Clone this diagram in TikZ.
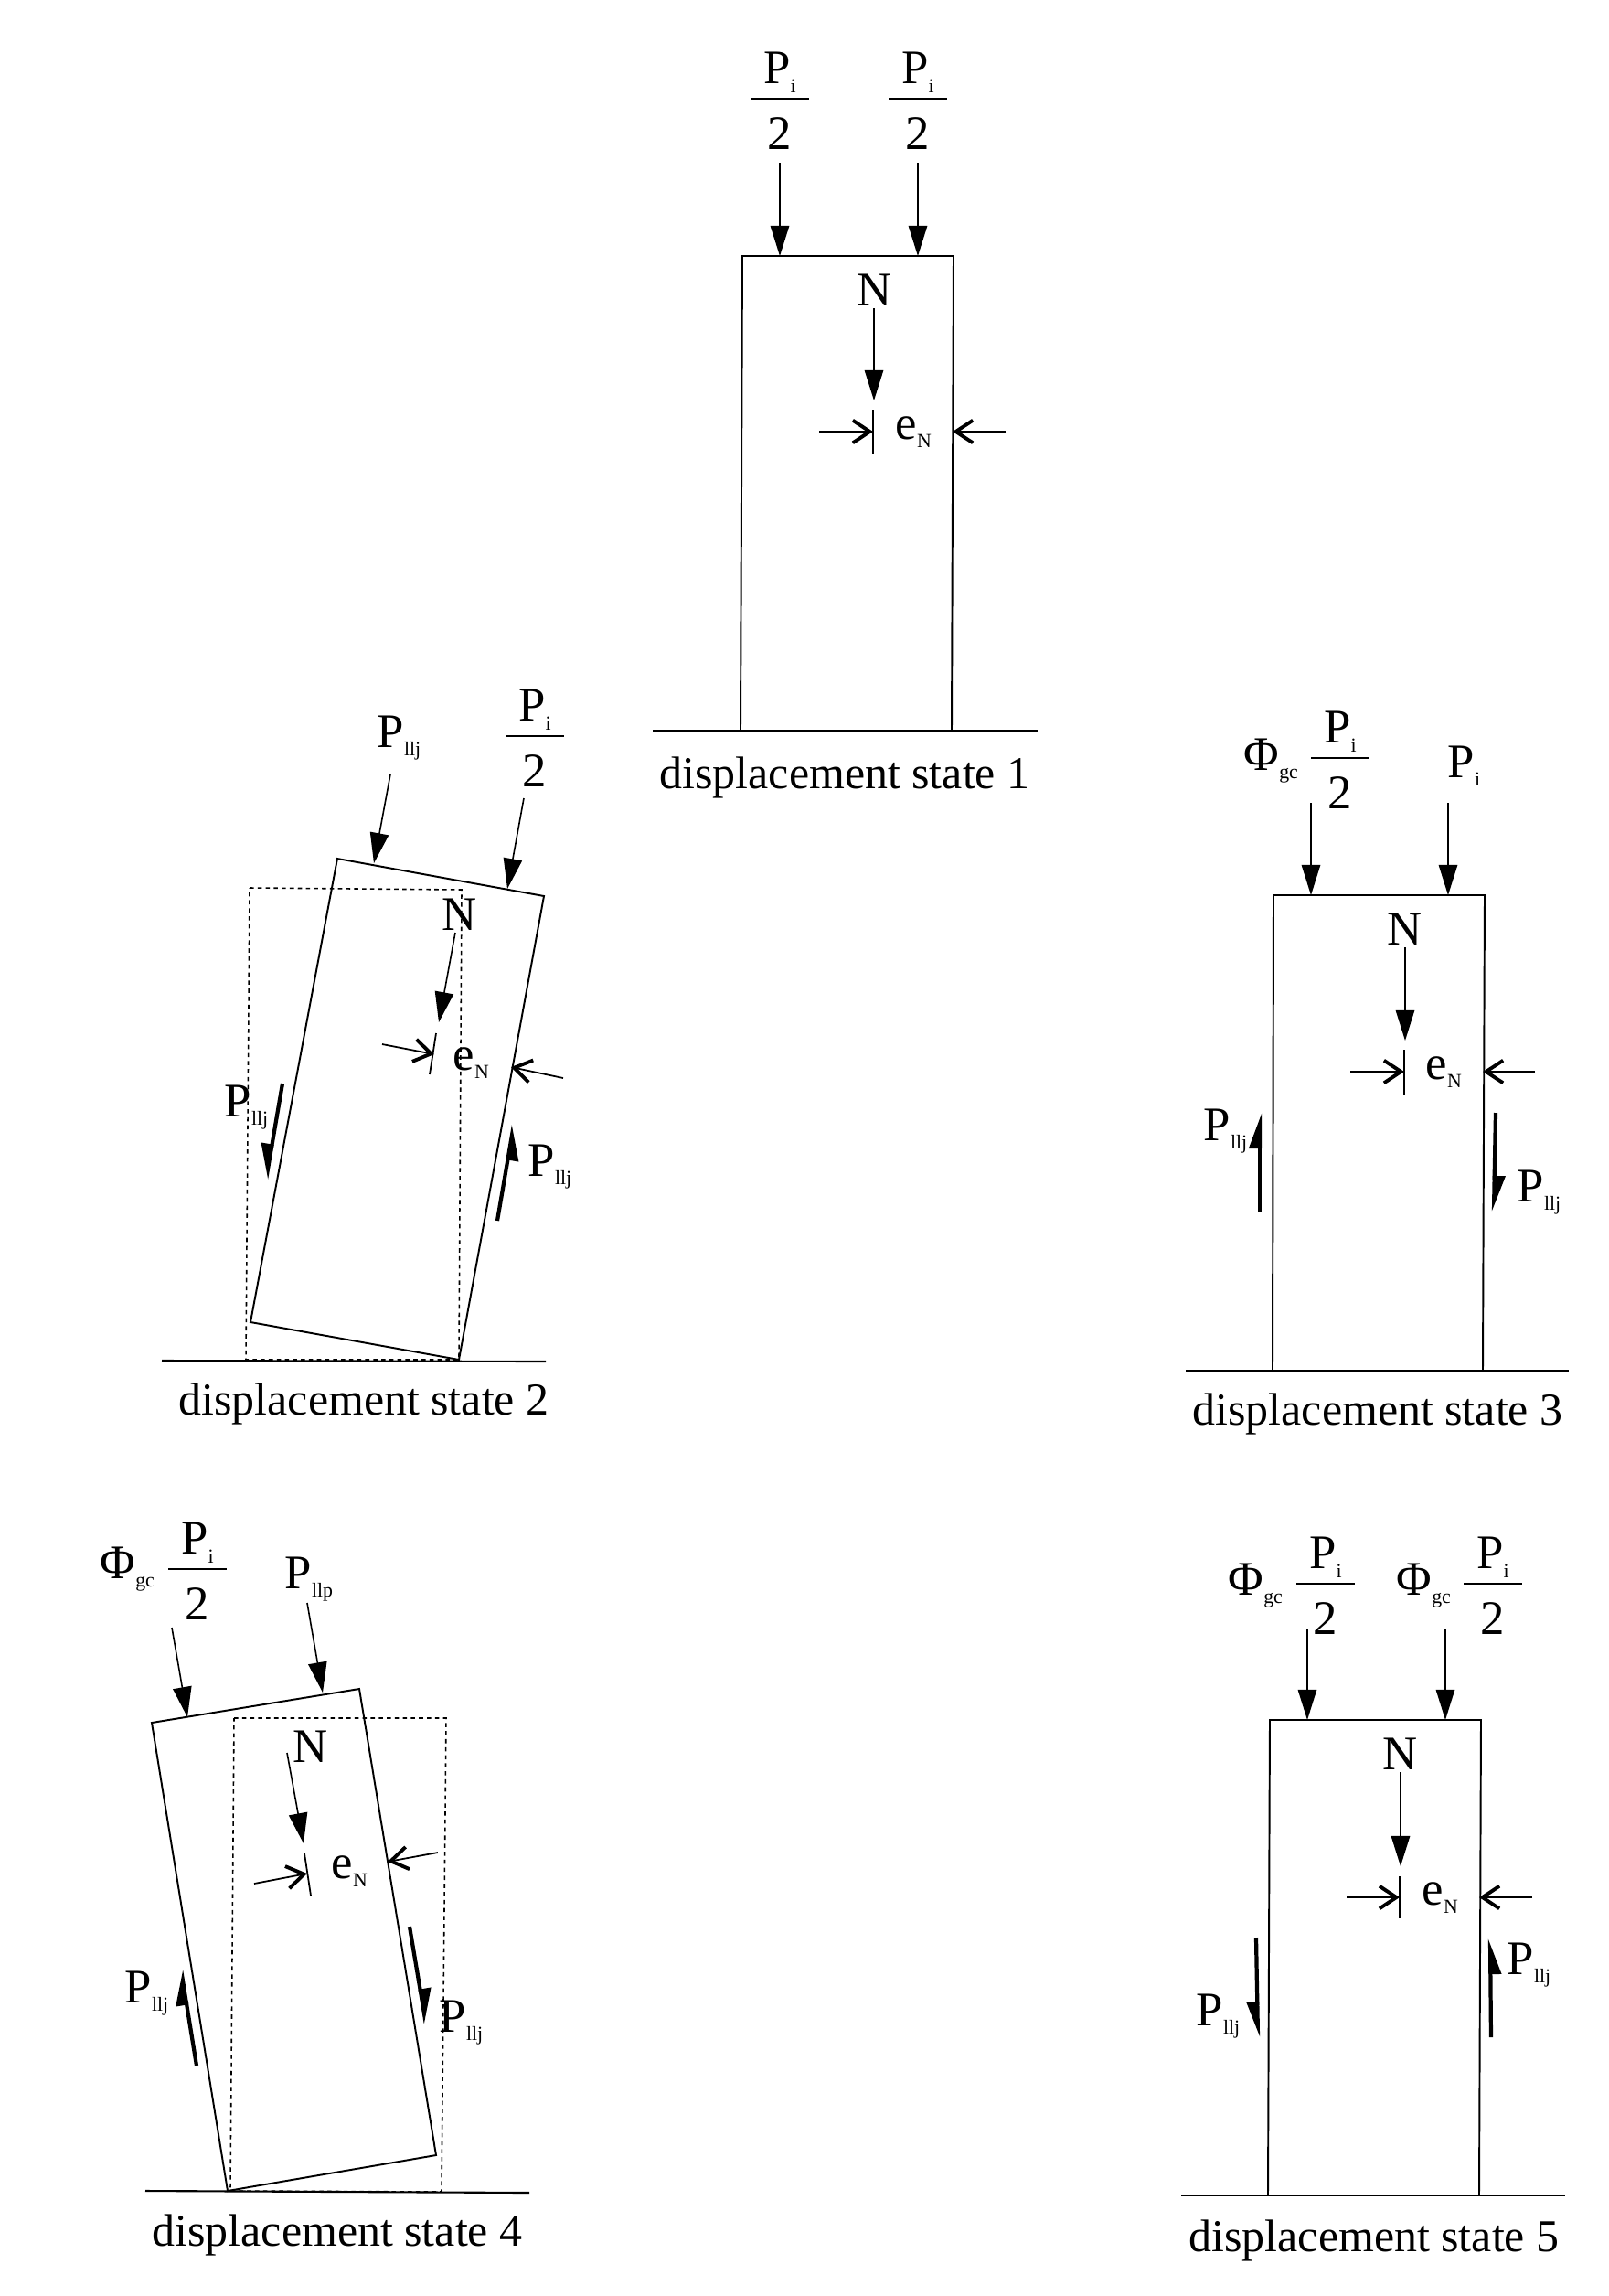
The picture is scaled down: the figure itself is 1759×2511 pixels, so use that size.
\documentclass[tikz,border=0pt]{standalone}
\usepackage{fontspec}
\setmainfont{Liberation Serif}
\usetikzlibrary{arrows.meta}

% subscripted symbol and the half fraction
\newcommand{\subbed}[2]{#1\lower2.8pt\hbox{\fontsize{6.2}{7}\selectfont #2}}
\newcommand{\halfload}{{\renewcommand{\arraystretch}{0}\setlength{\arrayrulewidth}{.5pt}%
    \begin{tabular}{@{}c@{}}\makebox[18.2pt]{\rule[-4.4pt]{0pt}{9.8pt}\subbed{P}{i}}\\\hline\rule{0pt}{15.4pt}2\end{tabular}}}

\tikzset{
    wall/.style={line width=.55pt, line join=miter},
    ground/.style={line width=.6pt},
    ghost/.style={line width=.45pt, dash pattern=on 1.3pt off 1.2pt},
    load/.style={line width=.45pt, -{Triangle[length=9.4pt,width=5.8pt]}},
    ecc/.style={line width=.5pt, -{Straight Barb[length=5.3pt,width=7pt,line width=1.1pt]}},
    ticker/.style={line width=.5pt},
    shear/.style={line width=1.2pt, -{Triangle[harpoon,length=9.4pt,width=6.6pt]}},
    shearb/.style={line width=1.2pt, -{Triangle[harpoon,swap,length=9.4pt,width=6.6pt]}},
    lbl/.style={anchor=base west, inner sep=0pt, yshift=-.6pt, font=\fontsize{15}{18}\selectfont},
    cen/.style={lbl, anchor=base},
    frac/.style={anchor=south, inner sep=0pt, yshift=-.5pt, font=\fontsize{15}{18}\selectfont},
    statename/.style={anchor=base, inner sep=0pt, font=\fontsize{14.2}{17}\selectfont}
}

\begin{document}
\begin{tikzpicture}[x=.01cm, y=-.01cm]
    \useasboundingbox (0,0) rectangle (1759,2511);

    % state 1
    \draw[wall] (812,280) -- (1043,280) -- (1041,799) -- (810,799) -- cycle;
    \draw[ground] (714,799) -- (1135,799);
    \path (853,178) coordinate (a1a) (853,280) coordinate (a1b)
        (1004,178) coordinate (a1c) (1004,280) coordinate (a1d)
        (956,337) coordinate (n1a) (956,438) coordinate (n1b)
        (955,448) coordinate (t1a) (955,497) coordinate (t1b)
        (896,472) coordinate (p1a) (955,472) coordinate (p1b)
        (1100,472) coordinate (p1c) (1042,472) coordinate (p1d);
    \draw[load] (a1a) -- (a1b);
    \draw[load] (a1c) -- (a1d);
    \draw[load] (n1a) -- (n1b);
    \draw[ticker] (t1a) -- (t1b);
    \draw[ecc] (p1a) -- (p1b);
    \draw[ecc] (p1c) -- (p1d);
    \node[frac] (f1a) at (853,162) {\halfload};
    \node[frac] (f1b) at (1004,162) {\halfload};
    \node[cen] (n1) at (957,332) {N};
    \node[lbl] (e1) at (979,478) {\subbed{e}{N}};
    \node[statename] (c1) at (924,862) {displacement state 1};

    % state 2
    \draw[ghost] (273,971) -- (505,973) -- (502,1487) -- (269,1487) -- cycle;
    \draw[wall] (369,939) -- (595,980) -- (502,1487) -- (274,1446) -- cycle;
    \draw[ground] (177,1488) -- (597,1489);
    \path (427,847) coordinate (a2a) (409,944) coordinate (a2b)
        (573,873) coordinate (a2c) (555,972) coordinate (a2d)
        (498,1020) coordinate (n2a) (480,1118) coordinate (n2b)
        (477,1130) coordinate (t2a) (470,1175) coordinate (t2b)
        (418,1142) coordinate (p2a) (475,1153) coordinate (p2b)
        (616,1179) coordinate (p2c) (559,1167) coordinate (p2d)
        (309,1185) coordinate (s2a) (291,1290) coordinate (s2b)
        (544,1335) coordinate (s2c) (562,1230) coordinate (s2d);
    \draw[load] (a2a) -- (a2b);
    \draw[load] (a2c) -- (a2d);
    \draw[load] (n2a) -- (n2b);
    \draw[ticker] (t2a) -- (t2b);
    \draw[ecc] (p2a) -- (p2b);
    \draw[ecc] (p2c) -- (p2d);
    \draw[shearb] (s2a) -- (s2b);
    \draw[shearb] (s2c) -- (s2d);
    \node[lbl] (l2a) at (412,815) {\subbed{P}{llj}};
    \node[frac] (f2) at (585,859) {\halfload};
    \node[cen] (n2) at (503,1015) {N};
    \node[lbl] (e2) at (495,1168) {\subbed{e}{N}};
    \node[lbl] (l2b) at (245,1219) {\subbed{P}{llj}};
    \node[lbl] (l2c) at (577,1284) {\subbed{P}{llj}};
    \node[statename] (c2) at (398,1547) {displacement state 2};

    % state 3
    \draw[wall] (1393,979) -- (1624,979) -- (1622,1499) -- (1392,1499) -- cycle;
    \draw[ground] (1297,1499) -- (1716,1499);
    \path (1434,878) coordinate (a3a) (1434,979) coordinate (a3b)
        (1584,878) coordinate (a3c) (1584,979) coordinate (a3d)
        (1537,1036) coordinate (n3a) (1537,1138) coordinate (n3b)
        (1536,1148) coordinate (t3a) (1536,1197) coordinate (t3b)
        (1477,1172) coordinate (p3a) (1536,1172) coordinate (p3b)
        (1679,1172) coordinate (p3c) (1622,1172) coordinate (p3d)
        (1378,1325) coordinate (s3a) (1378,1217) coordinate (s3b)
        (1636,1217) coordinate (s3c) (1634,1325) coordinate (s3d);
    \draw[load] (a3a) -- (a3b);
    \draw[load] (a3c) -- (a3d);
    \draw[load] (n3a) -- (n3b);
    \draw[ticker] (t3a) -- (t3b);
    \draw[ecc] (p3a) -- (p3b);
    \draw[ecc] (p3c) -- (p3d);
    \draw[shear] (s3a) -- (s3b);
    \draw[shear] (s3c) -- (s3d);
    \node[lbl] (g3) at (1360,840) {\subbed{Φ}{gc}};
    \node[frac] (f3) at (1466,883) {\halfload};
    \node[lbl] (l3a) at (1583,848) {\subbed{P}{i}};
    \node[cen] (n3) at (1537,1031) {N};
    \node[lbl] (e3) at (1559,1178) {\subbed{e}{N}};
    \node[lbl] (l3b) at (1316,1245) {\subbed{P}{llj}};
    \node[lbl] (l3c) at (1659,1312) {\subbed{P}{llj}};
    \node[statename] (c3) at (1507,1558) {displacement state 3};

    % state 4
    \draw[ghost] (256,1879) -- (488,1879) -- (483,2397) -- (252,2396) -- cycle;
    \draw[wall] (166,1884) -- (393,1847) -- (477,2357) -- (249,2396) -- cycle;
    \draw[ground] (159,2396) -- (579,2398);
    \path (188,1780) coordinate (a4a) (205,1878) coordinate (a4b)
        (336,1753) coordinate (a4c) (353,1851) coordinate (a4d)
        (314,1917) coordinate (n4a) (332,2016) coordinate (n4b)
        (333,2027) coordinate (t4a) (340,2073) coordinate (t4b)
        (278,2060) coordinate (p4a) (336,2049) coordinate (p4b)
        (479,2026) coordinate (p4c) (424,2036) coordinate (p4d)
        (215,2259) coordinate (s4a) (198,2154) coordinate (s4b)
        (448,2107) coordinate (s4c) (466,2214) coordinate (s4d);
    \draw[load] (a4a) -- (a4b);
    \draw[load] (a4c) -- (a4d);
    \draw[load] (n4a) -- (n4b);
    \draw[ticker] (t4a) -- (t4b);
    \draw[ecc] (p4a) -- (p4b);
    \draw[ecc] (p4c) -- (p4d);
    \draw[shear] (s4a) -- (s4b);
    \draw[shear] (s4c) -- (s4d);
    \node[lbl] (g4) at (109,1724) {\subbed{Φ}{gc}};
    \node[frac] (f4) at (216,1770) {\halfload};
    \node[lbl] (l4a) at (311,1735) {\subbed{P}{llp}};
    \node[cen] (n4) at (340,1925) {N};
    \node[lbl] (e4) at (362,2052) {\subbed{e}{N}};
    \node[lbl] (l4b) at (136,2188) {\subbed{P}{llj}};
    \node[lbl] (l4c) at (480,2220) {\subbed{P}{llj}};
    \node[statename] (c4) at (369,2456) {displacement state 4};

    % state 5
    \draw[wall] (1389,1881) -- (1620,1881) -- (1618,2401) -- (1387,2401) -- cycle;
    \draw[ground] (1292,2401) -- (1712,2401);
    \path (1430,1781) coordinate (a5a) (1430,1881) coordinate (a5b)
        (1581,1781) coordinate (a5c) (1581,1881) coordinate (a5d)
        (1532,1938) coordinate (n5a) (1532,2041) coordinate (n5b)
        (1531,2052) coordinate (t5a) (1531,2098) coordinate (t5b)
        (1473,2075) coordinate (p5a) (1531,2075) coordinate (p5b)
        (1676,2075) coordinate (p5c) (1618,2075) coordinate (p5d)
        (1374,2119) coordinate (s5a) (1376,2228) coordinate (s5b)
        (1631,2228) coordinate (s5c) (1630,2120) coordinate (s5d);
    \draw[load] (a5a) -- (a5b);
    \draw[load] (a5c) -- (a5d);
    \draw[load] (n5a) -- (n5b);
    \draw[ticker] (t5a) -- (t5b);
    \draw[ecc] (p5a) -- (p5b);
    \draw[ecc] (p5c) -- (p5d);
    \draw[shearb] (s5a) -- (s5b);
    \draw[shearb] (s5c) -- (s5d);
    \node[lbl] (g5a) at (1343,1742) {\subbed{Φ}{gc}};
    \node[frac] (f5a) at (1450,1786) {\halfload};
    \node[lbl] (g5b) at (1527,1742) {\subbed{Φ}{gc}};
    \node[frac] (f5b) at (1633,1786) {\halfload};
    \node[cen] (n5) at (1532,1933) {N};
    \node[lbl] (e5) at (1555,2081) {\subbed{e}{N}};
    \node[lbl] (l5a) at (1308,2213) {\subbed{P}{llj}};
    \node[lbl] (l5b) at (1648,2157) {\subbed{P}{llj}};
    \node[statename] (c5) at (1503,2462) {displacement state 5};
\end{tikzpicture}
\end{document}
